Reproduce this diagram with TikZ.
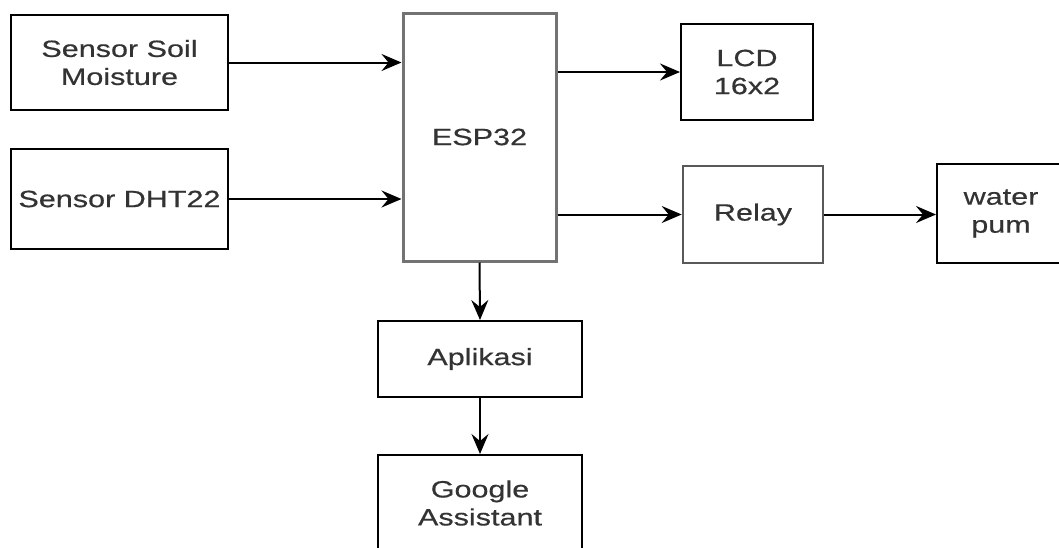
\documentclass[tikz,border=0pt]{standalone}
\usepackage{fontspec}
\newfontfamily\drawiofont[FakeStretch=1.3, FakeBold=0.5]{Liberation Sans}
\usetikzlibrary{arrows.meta}

\begin{document}
\begin{tikzpicture}[
				x=1pt, y=-1pt,
				font=\drawiofont\fontsize{23.5}{28}\selectfont,
				block/.style={draw, line width=2pt, align=center, text=black!80, inner sep=0pt},
				chip/.style={block, draw=black!55, line width=3pt},
				to/.style={-{Stealth[length=20pt, width=17pt, inset=7pt]}, line width=2pt},
				every node/.style={anchor=center}
				]
				\useasboundingbox (0,0) rectangle (1059,547);
				
				\node[block, minimum width=217pt, minimum height=95pt] (soil) at (119.5,62.5) {Sensor Soil\\Moisture};
				\node[block, minimum width=217pt, minimum height=100pt] (dht) at (119.5,199) {Sensor DHT22};
				\node[chip, minimum width=153pt, minimum height=248pt] (esp) at (479.5,137) {ESP32};
				\node[block, minimum width=132pt, minimum height=96pt] (lcd) at (747,72) {LCD\\16x2};
				\node[chip, draw=black!65, line width=2.6pt, minimum width=140pt, minimum height=97pt] (relay) at (753,214.5) {Relay};
				\node[block, minimum width=128pt, minimum height=99pt] (pump) at (1001,213.5) {water\\pum};
				\node[block, minimum width=204pt, minimum height=76pt] (app) at (480,359) {Aplikasi};
				\node[block, minimum width=204pt, minimum height=96pt] (google) at (480,503) {Google\\Assistant};
				
				\draw[to] (soil.east) -- (soil.east -| esp.west);
				\draw[to] (dht.east) -- (dht.east -| esp.west);
				\draw[to] (esp.east |- lcd.west) -- (lcd.west);
				\draw[to] (esp.east |- relay.west) -- (relay.west);
				\draw[to] (relay.east) -- (relay.east -| pump.west);
				\draw[to] (esp.south) -- (app.north);
				\draw[to] (app.south) -- (google.north);
				\end{tikzpicture}
\end{document}
